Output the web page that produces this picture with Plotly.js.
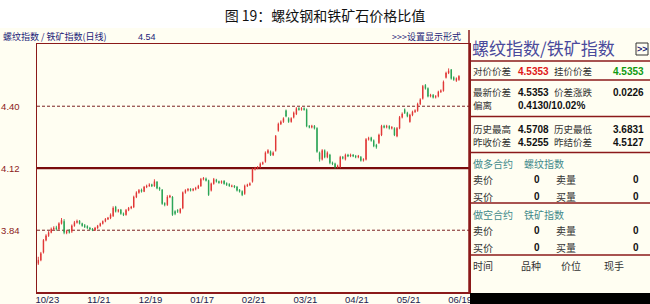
<!DOCTYPE html>
<html><head><meta charset="utf-8">
<script src="https://cdn.plot.ly/plotly-3.0.1.min.js"></script>
<style>html,body{margin:0;padding:0;background:#fff;} #chart{width:650px;height:304px;}</style>
</head><body><div id="chart"></div>
<script>
// ---- data ----
const tickIdx  = [0, 20, 40, 60, 80, 100, 120, 140, 160];
const tickText = ['10/23','11/21','12/19','01/17','02/21','03/21','04/21','05/21','06/19'];
const yTickVals = [3.84, 4.12, 4.40];
const yTickText = ['3.84', '4.12', '4.40'];
const dashedLevels = [3.84, 4.40];
const solidLevels  = [4.12];

const openV = [
3.690,3.705,3.740,3.795,3.815,3.830,3.845,3.852,3.845,3.870,
3.880,3.828,3.838,3.835,3.860,3.875,3.882,3.870,3.862,3.858,
3.850,3.846,3.840,3.850,3.860,3.870,3.880,3.890,3.895,3.905,
3.945,3.925,3.932,3.915,3.910,3.930,3.940,3.945,3.990,4.010,
4.022,4.015,4.035,4.040,4.046,4.040,4.058,4.032,4.022,3.962,
3.955,3.990,3.990,3.925,3.930,3.920,3.940,4.010,4.020,4.025,
4.020,4.025,4.030,4.040,4.070,4.072,4.065,4.020,4.050,4.068,
4.060,4.055,4.062,4.052,4.048,4.038,4.040,4.035,4.022,4.015,
4.005,4.040,4.045,4.060,4.115,4.120,4.125,4.140,4.150,4.190,
4.195,4.180,4.200,4.290,4.320,4.330,4.380,4.345,4.330,4.350,
4.365,4.390,4.385,4.390,4.385,4.310,4.305,4.310,4.300,4.190,
4.160,4.200,4.170,4.180,4.145,4.140,4.125,4.125,4.170,4.160,
4.180,4.175,4.180,4.175,4.170,4.170,4.155,4.160,4.250,4.258,
4.245,4.225,4.235,4.270,4.310,4.305,4.310,4.300,4.300,4.265,
4.300,4.350,4.385,4.370,4.330,4.360,4.375,4.380,4.410,4.435,
4.495,4.480,4.445,4.450,4.440,4.445,4.465,4.470,4.530,4.550,
4.565,4.530,4.515,4.520];
const highV = [
3.720,3.742,3.800,3.822,3.836,3.852,3.858,3.860,3.876,3.895,
3.890,3.842,3.845,3.866,3.882,3.888,3.886,3.874,3.868,3.862,
3.855,3.850,3.855,3.864,3.874,3.884,3.895,3.900,3.916,3.948,
3.950,3.936,3.936,3.920,3.936,3.945,3.950,3.996,4.016,4.026,
4.028,4.040,4.046,4.052,4.050,4.070,4.062,4.036,4.026,3.966,
3.998,4.000,3.994,3.930,3.935,3.940,4.015,4.025,4.030,4.030,
4.030,4.036,4.045,4.076,4.080,4.078,4.068,4.055,4.076,4.072,
4.064,4.065,4.066,4.056,4.052,4.046,4.044,4.040,4.026,4.020,
4.046,4.050,4.056,4.120,4.126,4.130,4.146,4.150,4.196,4.206,
4.200,4.196,4.270,4.326,4.336,4.350,4.385,4.350,4.350,4.376,
4.396,4.396,4.396,4.395,4.390,4.315,4.316,4.315,4.305,4.195,
4.206,4.205,4.196,4.185,4.150,4.145,4.136,4.176,4.175,4.186,
4.185,4.186,4.184,4.180,4.180,4.175,4.165,4.256,4.262,4.262,
4.250,4.230,4.276,4.316,4.316,4.316,4.314,4.310,4.305,4.306,
4.356,4.372,4.390,4.375,4.366,4.380,4.386,4.416,4.436,4.496,
4.500,4.485,4.456,4.455,4.450,4.470,4.476,4.516,4.556,4.5708,
4.568,4.535,4.530,4.540];
const lowV = [
3.6831,3.700,3.735,3.790,3.810,3.826,3.840,3.838,3.842,3.866,
3.822,3.822,3.825,3.828,3.856,3.870,3.866,3.856,3.850,3.846,
3.840,3.836,3.837,3.846,3.856,3.866,3.876,3.886,3.890,3.900,
3.920,3.920,3.910,3.904,3.906,3.926,3.935,3.940,3.985,4.005,
4.010,4.012,4.030,4.036,4.035,4.036,4.025,4.018,3.955,3.948,
3.950,3.985,3.905,3.908,3.918,3.915,3.935,4.005,4.015,4.015,
4.016,4.020,4.026,4.036,4.065,4.060,3.995,4.015,4.046,4.055,
4.050,4.050,4.046,4.040,4.036,4.034,4.030,4.015,4.010,3.994,
4.000,4.035,4.040,4.055,4.110,4.115,4.120,4.135,4.145,4.185,
4.175,4.175,4.195,4.285,4.315,4.325,4.350,4.325,4.326,4.345,
4.360,4.380,4.380,4.380,4.305,4.300,4.300,4.295,4.190,4.150,
4.155,4.165,4.165,4.138,4.134,4.118,4.120,4.120,4.160,4.155,
4.170,4.170,4.170,4.165,4.165,4.150,4.150,4.155,4.245,4.240,
4.215,4.208,4.230,4.265,4.300,4.300,4.295,4.295,4.265,4.260,
4.296,4.345,4.365,4.350,4.326,4.355,4.370,4.375,4.405,4.430,
4.475,4.440,4.440,4.435,4.435,4.440,4.460,4.466,4.525,4.545,
4.520,4.515,4.510,4.515];
const closeV = [
3.705,3.735,3.795,3.815,3.830,3.845,3.850,3.845,3.870,3.885,
3.830,3.835,3.830,3.860,3.875,3.880,3.870,3.860,3.855,3.850,
3.845,3.840,3.850,3.860,3.870,3.880,3.890,3.895,3.910,3.940,
3.925,3.930,3.915,3.910,3.930,3.940,3.945,3.990,4.010,4.020,
4.015,4.035,4.040,4.045,4.040,4.060,4.030,4.025,3.960,3.955,
3.990,3.995,3.910,3.915,3.925,3.935,4.010,4.020,4.025,4.020,
4.025,4.030,4.040,4.070,4.075,4.065,4.000,4.050,4.070,4.060,
4.055,4.060,4.050,4.045,4.040,4.040,4.035,4.020,4.015,4.000,
4.040,4.045,4.050,4.115,4.120,4.125,4.140,4.145,4.190,4.200,
4.180,4.190,4.265,4.320,4.330,4.345,4.355,4.330,4.345,4.370,
4.390,4.385,4.390,4.385,4.310,4.305,4.310,4.300,4.195,4.160,
4.200,4.170,4.190,4.145,4.140,4.125,4.130,4.170,4.165,4.180,
4.175,4.180,4.175,4.170,4.175,4.155,4.160,4.250,4.255,4.245,
4.220,4.215,4.270,4.310,4.305,4.310,4.300,4.305,4.270,4.300,
4.350,4.365,4.370,4.355,4.360,4.375,4.380,4.410,4.430,4.490,
4.480,4.445,4.450,4.440,4.445,4.465,4.470,4.510,4.550,4.560,
4.525,4.520,4.5255,4.5353];

// right-hand quote panel text
const panelTitle = '螺纹指数/铁矿指数';
const quoteRows = [
  [{t:'对价价差'},{t:'4.5353',c:'#e01818',b:1},{t:'挂价价差'},{t:'4.5353',c:'#109a10',b:1}],
  [{t:'最新价差'},{t:'4.5353',b:1},{t:'价差涨跌'},{t:'0.0226',b:1}],
  [{t:'偏离'},{t:'0.4130/10.02%',b:1}],
  [{t:'历史最高'},{t:'4.5708',b:1},{t:'历史最低'},{t:'3.6831',b:1}],
  [{t:'昨收价差'},{t:'4.5255',b:1},{t:'昨结价差'},{t:'4.5127',b:1}]
];
const longLabel = ['做多合约', '螺纹指数'];
const shortLabel = ['做空合约', '铁矿指数'];
const bookRows = [['卖价','0','卖量','0'], ['买价','0','买量','0']];
const tradeHeader = ['时间','品种','价位','现手'];

// ---- geometry helpers (pixel -> paper) ----
const PL = 37, PR = 469, PT = 44, PB = 292;
const px = x => (x - PL) / (PR - PL);
const py = y => (PB - y) / (PB - PT);

const FONT = '"Noto Sans CJK SC", "Liberation Sans", sans-serif';
const NUMF = '"Liberation Sans", sans-serif';
const RED = '#8b1a1a';
const annotations = [];
const shapes = [];
function txt(t, x, y, o) {
  o = o || {};
  annotations.push({
    text: o.b ? '<b>' + t + '</b>' : t, x: px(x), y: py(y), xref: 'paper', yref: 'paper',
    xanchor: o.anchor || 'left', yanchor: 'middle', showarrow: false, borderpad: 0,
    font: {family: o.fam || FONT, size: o.s || 10, color: o.c || '#222'}
  });
}
function hline(y, x0, x1, w, c) {
  shapes.push({type:'line', xref:'paper', yref:'paper', x0:px(x0), x1:px(x1), y0:py(y), y1:py(y),
    line:{color:c || RED, width:w || 1.5}});
}
function rect(x0, y0, x1, y1, fill, lc, layer) {
  shapes.push({type:'rect', xref:'paper', yref:'paper', x0:px(x0), x1:px(x1), y0:py(y1), y1:py(y0),
    fillcolor: fill, line:{color: lc || 'rgba(0,0,0,0)', width: lc ? 1 : 0}, layer: layer || 'above'});
}

// white title band
rect(0, 0, 650, 28, '#ffffff', null, 'below');

// reference levels
dashedLevels.forEach(v => shapes.push({type:'line', xref:'paper', yref:'y', x0:0, x1:1, y0:v, y1:v,
  line:{color:'#7a2020', width:1, dash:'3px,2px'}, layer:'below'}));
solidLevels.forEach(v => shapes.push({type:'line', xref:'paper', yref:'y', x0:0, x1:1, y0:v, y1:v,
  line:{color:'#7a0c0c', width:2.2}, layer:'below'}));

// header of the chart area
txt('螺纹指数 / 铁矿指数(日线)', 2, 37, {s:9, c:'#1c1c78'});
txt('4.54', 137, 37, {s:9, c:'#1c1c78', fam:NUMF});
txt('>>>设置显示形式', 391, 37, {s:9, c:'#1c1c78'});

// right panel
shapes.push({type:'line', xref:'paper', yref:'paper', x0:px(469), x1:px(469), y0:py(293), y1:py(30),
  line:{color:RED, width:1.5}});
txt(panelTitle, 471, 47, {s:17, c:'#4a4a9c'});
rect(636, 43, 648, 55, 'rgba(0,0,0,0)', '#333');
txt('>>', 642, 49, {s:9, c:'#1c1c78', anchor:'center', b:1, fam:NUMF});
[61, 80, 116.5, 152.5, 203, 255].forEach(y => hline(y, 469, 650, 1.5, RED));

const rowY = [71, 92, 105, 129, 142];
const colX = [472, 517, 553, 612];
quoteRows.forEach((row, r) => row.forEach((cell, k) => {
  txt(cell.t, colX[k], rowY[r], {s: cell.b ? 10 : 9.5, c: cell.c || (cell.b ? '#111' : '#333'),
    b: cell.b, fam: cell.b ? NUMF : FONT});
}));

function bookBlock(label, yLabel, yRows) {
  txt(label[0], 472, yLabel, {s:10, c:'#3f8a8a'});
  txt(label[1], 523, yLabel, {s:10, c:'#3f8a8a'});
  bookRows.forEach((row, r) => {
    txt(row[0], 472, yRows[r], {s:10, c:'#333'});
    txt(row[1], 541, yRows[r], {s:10, c:'#111', b:1, anchor:'right', fam:NUMF});
    txt(row[2], 555, yRows[r], {s:10, c:'#333'});
    txt(row[3], 640, yRows[r], {s:10, c:'#111', b:1, anchor:'right', fam:NUMF});
  });
}
bookBlock(longLabel, 163, [179, 196]);
bookBlock(shortLabel, 214, [230, 247]);
const headX = [472, 520, 560, 603];
tradeHeader.forEach((t, k) => txt(t, headX[k], 265, {s:10, c:'#333'}));

// black strip at bottom right
rect(470, 293, 650, 304, '#000000', null, 'above');

const trace = {
  type: 'candlestick',
  open: openV, high: highV, low: lowV, close: closeV,
  increasing: {line: {color: '#e03030', width: 0.9}, fillcolor: '#e03030'},
  decreasing: {line: {color: '#22a050', width: 0.9}, fillcolor: '#22a050'},
  whiskerwidth: 0, hoverinfo: 'skip', showlegend: false
};

const layout = {
  width: 650, height: 304,
  margin: {l: PL, r: 650 - PR, t: PT, b: 304 - PB, pad: 0},
  paper_bgcolor: '#fffef2', plot_bgcolor: '#fffef2',
  showlegend: false, boxgap: 0.72,
  title: {text: '图 19：螺纹钢和铁矿石价格比值', x: 0.5, xref: 'container', xanchor: 'center',
          y: 1 - 16/304, yref: 'container', yanchor: 'middle',
          font: {family: FONT, size: 14, color: '#111'}},
  xaxis: {range: [-0.5, 166.9], tickmode: 'array', tickvals: tickIdx, ticktext: tickText,
          ticks: '', ticklabelshift: 9, ticklabelstandoff: -2,
          tickfont: {family: NUMF, size: 9.5, color: '#1a1a50'},
          showgrid: false, zeroline: false, showline: true, mirror: true,
          linecolor: RED, linewidth: 1.5, rangeslider: {visible: false}, fixedrange: true},
  yaxis: {range: [3.561, 4.681], tickmode: 'array', tickvals: yTickVals, ticktext: yTickText,
          ticks: '', ticklabelstandoff: 14,
          tickfont: {family: NUMF, size: 9.5, color: '#8b1a1a'},
          showgrid: false, zeroline: false, showline: true, mirror: true,
          linecolor: RED, linewidth: 1.5, fixedrange: true},
  shapes: shapes,
  annotations: annotations
};

Plotly.newPlot('chart', [trace], layout, {displayModeBar: false, staticPlot: true});
</script>
</body></html>
